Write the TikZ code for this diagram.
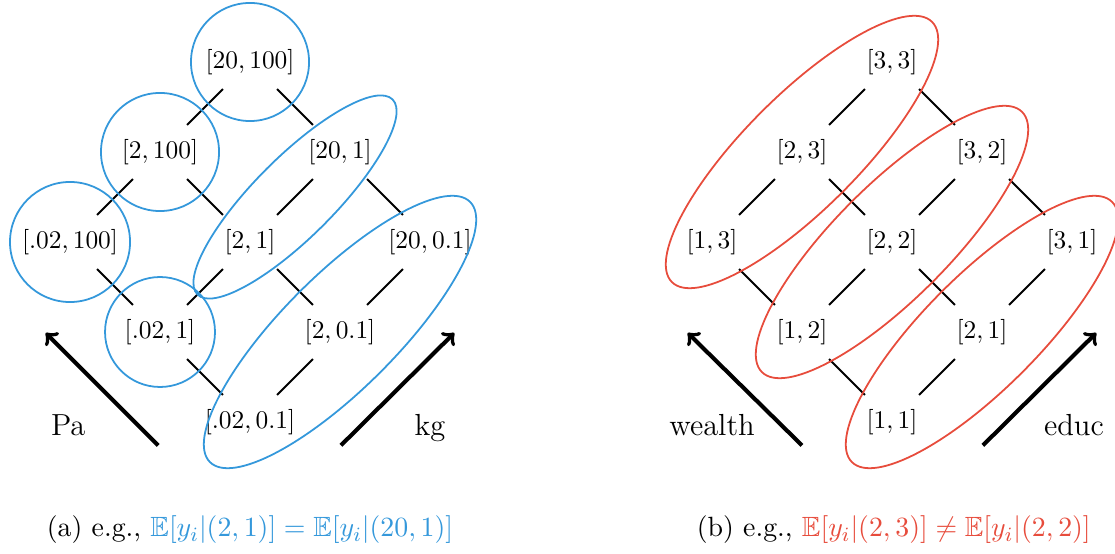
\documentclass[tikz,border=0pt]{standalone}
\usepackage{amssymb}
\usepackage{xcolor}
\usepackage{tikz}

\begin{document}
\begin{tikzpicture}[x=1.245cm, y=1.245cm]

% Colori
\definecolor{colBlu}{HTML}{3498DB}
\definecolor{colRosso}{HTML}{E74C3C}

% Stili
\tikzset{
  lato/.style={thick, shorten <=0.53cm, shorten >=0.53cm},
  freccia/.style={->, ultra thick},
  asse/.style={font=\large, anchor=base},
  gruppoBlu/.style={draw=colBlu, line width=0.7pt},
  gruppoRosso/.style={draw=colRosso, line width=0.7pt},
  didascalia/.style={font=\fontsize{10.95}{13.6}\selectfont},
}

\useasboundingbox (-2.778,-1.456) rectangle (9.611,4.689);

% ---------------- (a) ----------------
% Reticolo
\node (a00) at (0,0)  {$[.02, 0.1]$};
\node (a10) at (1,1)  {$[2, 0.1]$};
\node (a20) at (2,2)  {$[20, 0.1]$};
\node (a01) at (-1,1) {$[.02, 1]$};
\node (a11) at (0,2)  {$[2, 1]$};
\node (a21) at (1,3)  {$[20, 1]$};
\node (a02) at (-2,2) {$[.02, 100]$};
\node (a12) at (-1,3) {$[2, 100]$};
\node (a22) at (0,4)  {$[20, 100]$};

\foreach \i in {0,1,2} {
  \foreach \j/\k in {0/1,1/2} {
    \draw[lato] (a\i\j.center) -- (a\i\k.center);
    \draw[lato] (a\j\i.center) -- (a\k\i.center);
  }
}

% Gruppi
\draw[gruppoBlu] (a22.center) circle[radius=0.656];
\draw[gruppoBlu] (a12.center) circle[radius=0.656];
\draw[gruppoBlu] (a02.center) circle[radius=0.667];
\draw[gruppoBlu] (a01.center) circle[radius=0.611];
\draw[gruppoBlu, rotate around={45:(0.5,2.5)}] (0.5,2.5) ellipse[x radius=1.533, y radius=0.444];
\draw[gruppoBlu, rotate around={45:(1,1)}] (1,1) ellipse[x radius=2.044, y radius=0.633];

% Assi
\coordinate (aPaDa) at (-1.02,-0.26);
\coordinate (aPaA)  at (-2.27,0.99);
\coordinate (aKgDa) at (1.01,-0.26);
\coordinate (aKgA)  at (2.27,0.99);
\draw[freccia] (aPaDa) -- (aPaA);
\draw[freccia] (aKgDa) -- (aKgA);
\node[asse] (aPa) at (-2.02,-0.145) {Pa};
\node[asse] (aKg) at (2.0,-0.145) {kg};

\node[didascalia] (didA) at (0,-1.2)
  {(a) e.g., \textcolor{colBlu}{$\mathbb{E}[y_i|(2,1)] = \mathbb{E}[y_i|(20,1)]$}};

% ---------------- (b) ----------------
% Reticolo
\node (b00) at (7.133,0) {$[1, 1]$};
\node (b10) at (8.133,1) {$[2, 1]$};
\node (b20) at (9.133,2) {$[3, 1]$};
\node (b01) at (6.133,1) {$[1, 2]$};
\node (b11) at (7.133,2) {$[2, 2]$};
\node (b21) at (8.133,3) {$[3, 2]$};
\node (b02) at (5.133,2) {$[1, 3]$};
\node (b12) at (6.133,3) {$[2, 3]$};
\node (b22) at (7.133,4) {$[3, 3]$};

\foreach \i in {0,1,2} {
  \foreach \j/\k in {0/1,1/2} {
    \draw[lato] (b\i\j.center) -- (b\i\k.center);
    \draw[lato] (b\j\i.center) -- (b\k\i.center);
  }
}

% Gruppi
\draw[gruppoRosso, rotate around={45:(6.133,3)}] (6.133,3) ellipse[x radius=2.044, y radius=0.633];
\draw[gruppoRosso, rotate around={45:(7.133,2)}] (7.133,2) ellipse[x radius=2.044, y radius=0.633];
\draw[gruppoRosso, rotate around={45:(8.133,1)}] (8.133,1) ellipse[x radius=2.044, y radius=0.633];

% Assi
\coordinate (bWeDa) at (6.133,-0.26);
\coordinate (bWeA)  at (4.863,0.99);
\coordinate (bEdDa) at (8.143,-0.26);
\coordinate (bEdA)  at (9.403,0.99);
\draw[freccia] (bWeDa) -- (bWeA);
\draw[freccia] (bEdDa) -- (bEdA);
\node[asse] (bWe) at (5.133,-0.145) {wealth};
\node[asse] (bEd) at (9.155,-0.145) {educ};

\node[didascalia] (didB) at (7.153,-1.2)
  {(b) e.g., \textcolor{colRosso}{$\mathbb{E}[y_i|(2,3)] \neq \mathbb{E}[y_i|(2,2)]$}};

\end{tikzpicture}
\end{document}
